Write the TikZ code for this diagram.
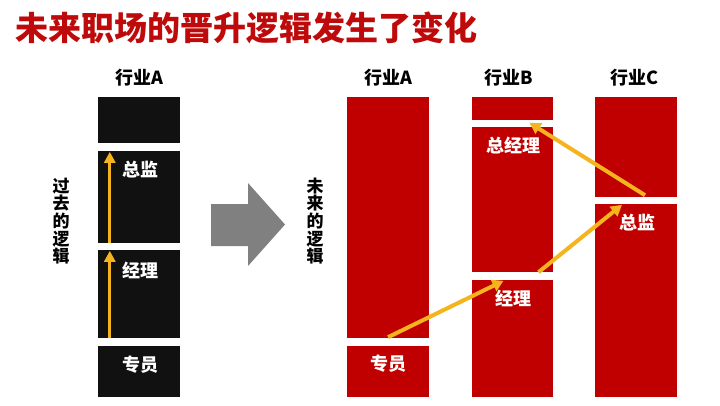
\documentclass[tikz,border=0pt]{standalone}
\usepackage{fontspec}
\setmainfont{Noto Sans CJK SC}
\newfontfamily\cjk{Noto Sans CJK SC}
\usetikzlibrary{arrows.meta,calc}
\definecolor{titlered}{HTML}{BE0A0A}
\definecolor{barred}{HTML}{C00000}
\definecolor{barblack}{HTML}{111111}
\definecolor{gold}{HTML}{F5B41E}
\definecolor{bigarrow}{HTML}{808080}
\tikzset{
  blackbar/.style={fill=barblack, draw=none, inner sep=0pt, anchor=center},
  redbar/.style={fill=barred, draw=none, inner sep=0pt, anchor=center},
  header/.style={font=\cjk\bfseries\fontsize{18}{20}\selectfont, text=black, inner sep=0pt},
  lab/.style={font=\cjk\bfseries\fontsize{18}{20}\selectfont, text=white, inner sep=0pt},
  vtext/.style={font=\cjk\bfseries\fontsize{17}{17.6}\selectfont, align=center, text=black, inner sep=0pt},
  uparr/.style={draw=gold, line width=3pt, -{Triangle[length=11pt,width=11pt]}},
  jumparr/.style={draw=gold, line width=4pt, -{Triangle[length=11pt,width=12pt]}}
}
\begin{document}
\begin{tikzpicture}[x=1pt,y=-1pt]
\useasboundingbox (0,0) rectangle (720,405);
\fill[white] (0,0) rectangle (720,405);
% title
\node[anchor=west, inner sep=0pt, text=titlered, font=\cjk\bfseries\fontsize{33}{37}\selectfont] (title) at (15,28) {未来职场的晋升逻辑发生了变化};
% left column
\node[header] (hL) at (139,78) {行业A};
\node[blackbar, minimum width=82pt, minimum height=46pt] (L1) at (139,120) {};
\node[blackbar, minimum width=82pt, minimum height=92pt] (L2) at (139,197) {};
\node[blackbar, minimum width=82pt, minimum height=88pt] (L3) at (139,294) {};
\node[blackbar, minimum width=82pt, minimum height=51pt] (L4) at (139,371.5) {};
\node[lab] (tL2) at (140,170) {总监};
\node[lab] (tL3) at (140,270) {经理};
\node[lab] (tL4) at (140,365) {专员};
\draw[uparr] ($(L3.south west)+(12,0)$) -- ($(L3.north west)+(12,1)$);
\draw[uparr] ($(L2.south west)+(12,0)$) -- ($(L2.north west)+(12,1)$);
\node[vtext] (vL) at (61,221) {过\\去\\的\\逻\\辑};
% big arrow
\fill[bigarrow] (211,204) -- (248,204) -- (248,183) -- (285,224.5) -- (248,266) -- (248,246) -- (211,246) -- cycle;
\node[vtext] (vR) at (315,221) {未\\来\\的\\逻\\辑};
% right columns
\node[header] (hA) at (388,78) {行业A};
\node[header] (hB) at (509,78) {行业B};
\node[header] (hC) at (634,78) {行业C};
\node[redbar, minimum width=82pt, minimum height=241pt] (RA1) at (388,217.5) {};
\node[redbar, minimum width=82pt, minimum height=51pt] (RA2) at (388,371.5) {};
\node[redbar, minimum width=81pt, minimum height=23pt] (RB1) at (512.5,108.5) {};
\node[redbar, minimum width=81pt, minimum height=145pt] (RB2) at (512.5,199.5) {};
\node[redbar, minimum width=81pt, minimum height=117pt] (RB3) at (512.5,338.5) {};
\node[redbar, minimum width=82pt, minimum height=100pt] (RC1) at (636,147) {};
\node[redbar, minimum width=82pt, minimum height=193pt] (RC2) at (636,300.5) {};
\node[lab] (tA2) at (388,364) {专员};
\node[lab] (tB3) at (513,298) {经理};
\node[lab] (tB2) at (513,146) {总经理};
\node[lab] (tC2) at (637,223) {总监};
\coordinate (p1) at ($(RA1.south)+(0,-1)$);
\coordinate (p2) at ($(RB3.north)+(-9,1)$);
\coordinate (p3) at ($(RB2.south)+(26,0)$);
\coordinate (p4) at ($(RC2.north)+(-14,1)$);
\coordinate (p5) at ($(RC1.south)+(9,-2)$);
\coordinate (p6) at ($(RB2.north)+(17,-4)$);
\draw[jumparr] (p1) -- (p2);
\draw[jumparr] (p3) -- (p4);
\draw[jumparr] (p5) -- (p6);
\end{tikzpicture}
\end{document}
